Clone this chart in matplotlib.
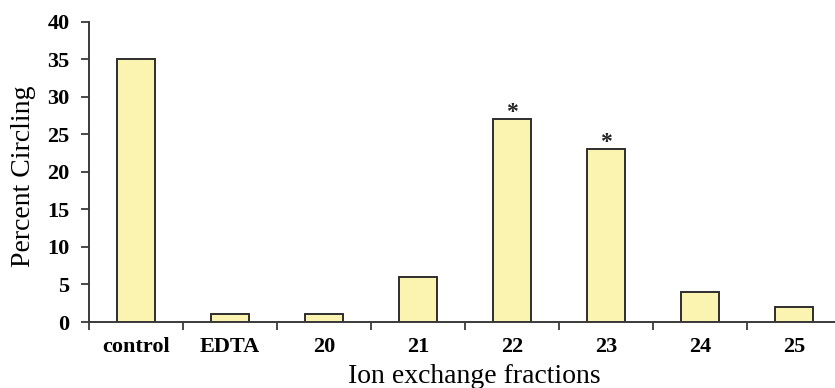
import matplotlib
matplotlib.use("Agg")
import matplotlib.pyplot as plt

# Percent circling per ion exchange fraction
categories = ["control", "EDTA", "20", "21", "22", "23", "24", "25"]
percent_circling = [35, 1, 1, 6, 27, 23, 4, 2]
significant = [False, False, False, False, True, True, False, False]
y_ticks = [0, 5, 10, 15, 20, 25, 30, 35, 40]

plt.rcParams["font.family"] = ["Liberation Serif", "DejaVu Serif"]

fig = plt.figure(figsize=(8.35, 3.88), dpi=100)
ax = fig.add_axes([89 / 835, 66 / 388, 752 / 835, 300.5 / 388])

spine_color = "#3a3a3a"
x = list(range(len(categories)))
ax.bar(x, percent_circling, width=0.4, color="#fbf3b0",
       edgecolor="#2e2e2e", linewidth=1.4, zorder=2)

for xi, val, sig in zip(x, percent_circling, significant):
    if sig:
        ax.annotate("*", (xi, val), xytext=(0, -3), textcoords="offset points",
                    ha="center", va="bottom", fontsize=17, fontweight="bold",
                    color="#222222")

ax.set_xlim(-0.5, len(categories) - 0.5)
ax.set_ylim(0, 40)

# boundary ticks without labels, category labels at bar centres
ax.set_xticks([i - 0.5 for i in range(len(categories) + 1)])
ax.set_xticklabels([])
ax.set_xticks(x, minor=True)
ax.set_xticklabels(categories, minor=True, fontsize=16, fontweight="bold")
ax.tick_params(axis="x", which="major", direction="out", length=6,
               width=1.3, color=spine_color)
ax.tick_params(axis="x", which="minor", length=0, pad=11)

ax.set_yticks(y_ticks)
ax.set_yticklabels([str(t) for t in y_ticks], fontsize=16, fontweight="bold")
ax.tick_params(axis="y", direction="out", length=6, width=1.3,
               color=spine_color, pad=8)

for side in ("top", "right"):
    ax.spines[side].set_visible(False)
for side in ("left", "bottom"):
    ax.spines[side].set_color(spine_color)
    ax.spines[side].set_linewidth(1.4)

ax.set_ylabel("Percent Circling", fontsize=20)
ax.yaxis.set_label_coords(-0.071, 0.485)
ax.set_xlabel("Ion exchange fractions", fontsize=20)
ax.xaxis.set_label_coords(0.513, -0.14)

fig.savefig("out.png", dpi=100)
